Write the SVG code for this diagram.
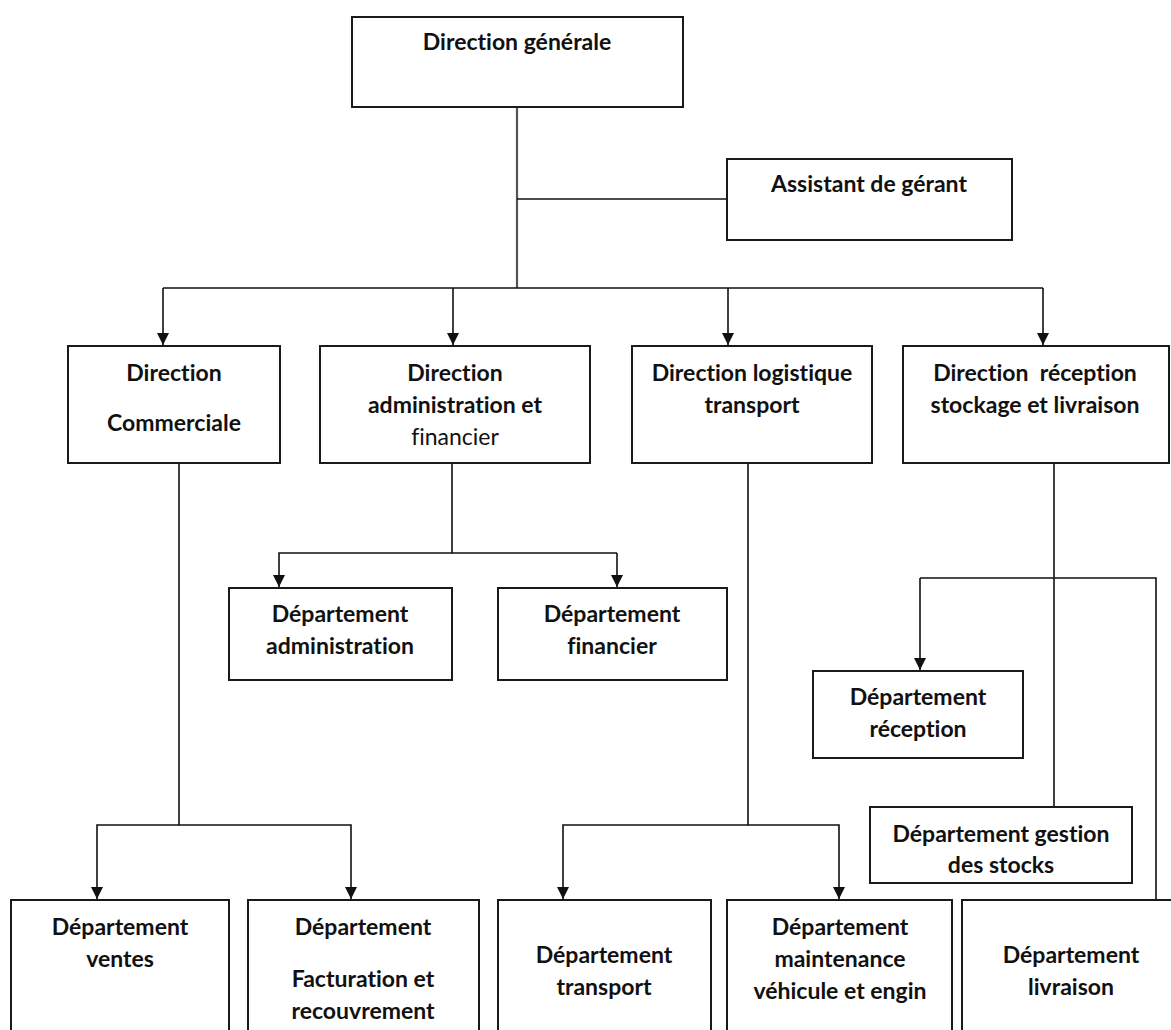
<svg xmlns="http://www.w3.org/2000/svg" width="1171" height="1030" viewBox="0 0 1171 1030">
<style>
.box{fill:#fff;stroke:#1a1a1a;stroke-width:2}
.t{font-family:Lato,"Open Sans","Liberation Sans",sans-serif;font-weight:bold;font-size:23px;fill:#111;text-anchor:middle;white-space:pre;font-variant-ligatures:none;font-feature-settings:"liga" 0,"clig" 0}
.r{font-weight:normal}
.c{fill:none;stroke:#111;stroke-width:1.6}
.g{fill:none;stroke:#555;stroke-width:2.2}
</style>
<defs>
<marker id="ah" markerWidth="12" markerHeight="12" refX="10" refY="5" orient="auto" markerUnits="userSpaceOnUse" viewBox="0 0 10 10">
<path d="M0,0 L10,5 L0,10 z" fill="#111"/>
</marker>
</defs>
<rect width="1171" height="1030" fill="#fff"/>
<g id="connectors">
<path class="g" d="M517,107 V288"/>
<path class="c" d="M517,199 H727"/>
<path class="c" d="M163,288 H1043"/>
<path class="c" d="M163,288 V345" marker-end="url(#ah)"/>
<path class="c" d="M453,288 V345" marker-end="url(#ah)"/>
<path class="c" d="M728,288 V345" marker-end="url(#ah)"/>
<path class="c" d="M1043,288 V345" marker-end="url(#ah)"/>
<path class="c" d="M452,463 V553 H617"/>
<path class="c" d="M452,553 H279 V587" marker-end="url(#ah)"/>
<path class="c" d="M617,553 V587" marker-end="url(#ah)"/>
<path class="c" d="M179,463 V825 H351 V899" marker-end="url(#ah)"/>
<path class="c" d="M179,825 H97 V899" marker-end="url(#ah)"/>
<path class="c" d="M748,463 V825 H839 V899" marker-end="url(#ah)"/>
<path class="c" d="M748,825 H563 V899" marker-end="url(#ah)"/>
<path class="c" d="M1054,463 V807"/>
<path class="c" d="M920,578 H1156 V900"/>
<path class="c" d="M920,578 V670" marker-end="url(#ah)"/>
</g>
<g id="n_dg"><rect class="box" x="352" y="17" width="331" height="90"/><text class="t" x="517" y="50">Direction générale</text></g>
<g id="n_assistant"><rect class="box" x="727" y="159" width="285" height="81"/><text class="t" x="869" y="192">Assistant de gérant</text></g>
<g id="n_dcom"><rect class="box" x="68" y="346" width="212" height="117"/><text class="t" x="174" y="381">Direction</text><text class="t" x="174" y="431">Commerciale</text></g>
<g id="n_dadm"><rect class="box" x="320" y="346" width="270" height="117"/><text class="t" x="455" y="381">Direction</text><text class="t" x="455" y="413">administration et</text><text class="t r" x="455" y="445">financier</text></g>
<g id="n_dlog"><rect class="box" x="632" y="346" width="240" height="117"/><text class="t" x="752" y="381">Direction logistique</text><text class="t" x="752" y="413">transport</text></g>
<g id="n_drec"><rect class="box" x="903" y="346" width="266" height="117"/><text class="t" x="1035" y="381">Direction  réception</text><text class="t" x="1035" y="413">stockage et livraison</text></g>
<g id="n_dept_adm"><rect class="box" x="229" y="588" width="223" height="92"/><text class="t" x="340" y="622">Département</text><text class="t" x="340" y="654">administration</text></g>
<g id="n_dept_fin"><rect class="box" x="498" y="588" width="229" height="92"/><text class="t" x="612" y="622">Département</text><text class="t" x="612" y="654">financier</text></g>
<g id="n_dept_rec"><rect class="box" x="813" y="671" width="210" height="87"/><text class="t" x="918" y="705">Département</text><text class="t" x="918" y="737">réception</text></g>
<g id="n_dept_stock"><rect class="box" x="870" y="807" width="262" height="76"/><text class="t" x="1001" y="842">Département gestion</text><text class="t" x="1001" y="873">des stocks</text></g>
<g id="n_dept_ventes"><rect class="box" x="11" y="900" width="218" height="140"/><text class="t" x="120" y="935">Département</text><text class="t" x="120" y="967">ventes</text></g>
<g id="n_dept_fact"><rect class="box" x="248" y="900" width="231" height="140"/><text class="t" x="363" y="935">Département</text><text class="t" x="363" y="987">Facturation et</text><text class="t" x="363" y="1019">recouvrement</text></g>
<g id="n_dept_trans"><rect class="box" x="498" y="900" width="213" height="140"/><text class="t" x="604" y="963">Département</text><text class="t" x="604" y="995">transport</text></g>
<g id="n_dept_maint"><rect class="box" x="727" y="900" width="225" height="140"/><text class="t" x="840" y="935">Département</text><text class="t" x="840" y="967">maintenance</text><text class="t" x="840" y="999">véhicule et engin</text></g>
<g id="n_dept_liv"><rect class="box" x="962" y="900" width="220" height="140"/><text class="t" x="1071" y="963">Département</text><text class="t" x="1071" y="995">livraison</text></g>
</svg>
